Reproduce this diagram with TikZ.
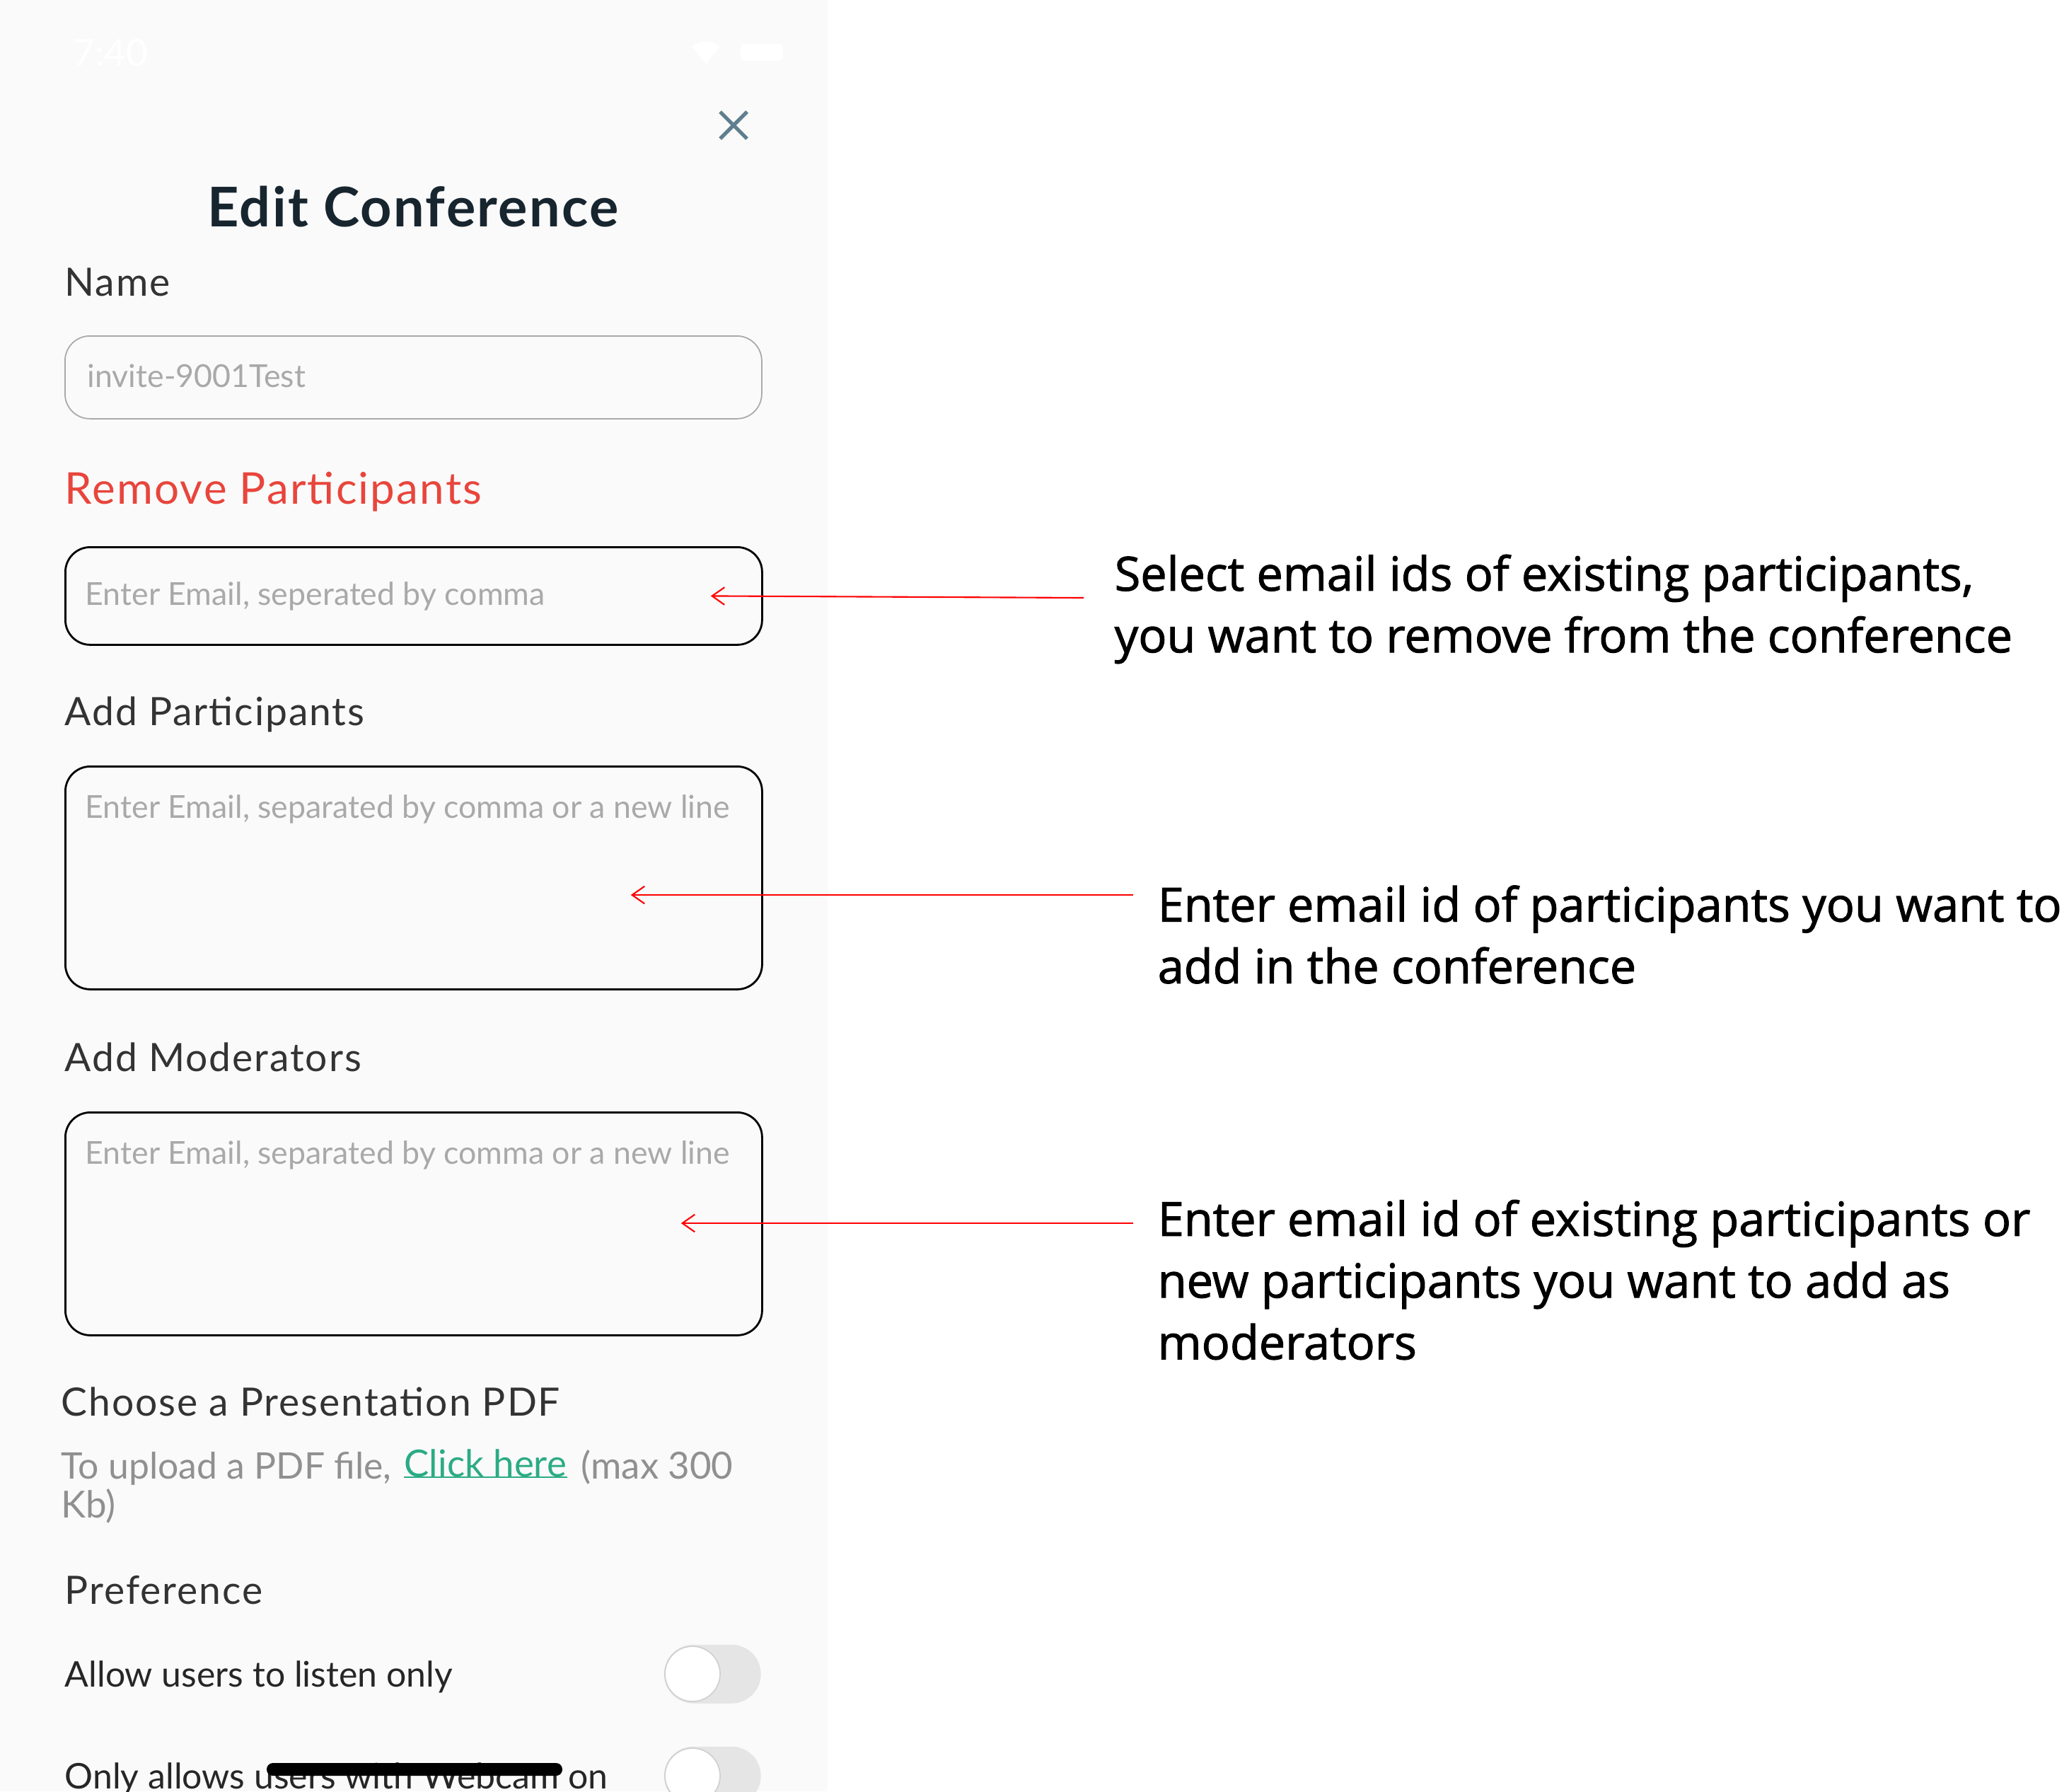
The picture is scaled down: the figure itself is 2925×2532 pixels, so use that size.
\documentclass[tikz,border=0pt]{standalone}
\usepackage{fontspec}
\usepackage{tikz}
\usetikzlibrary{arrows.meta,positioning,calc}
\setmainfont{Lato}
\newfontfamily\labelfont[LetterSpace=3.5]{Lato}
\newfontfamily\titlefont[LetterSpace=3]{Lato Bold}
\newfontfamily\notefont[FakeBold=1.5]{Open Sans}
\definecolor{confPanel}{HTML}{FAFAFA}
\definecolor{confInk}{HTML}{17252F}
\definecolor{confLabel}{HTML}{333333}
\definecolor{confHint}{HTML}{A9A9A9}
\definecolor{confRed}{HTML}{E8453C}
\definecolor{confGreen}{HTML}{2BAB84}
\definecolor{confTrack}{HTML}{E5E5E5}
\definecolor{confClose}{HTML}{5F7F8F}

\begin{document}
\begin{tikzpicture}[x=0.01cm,y=-0.01cm,
  label/.style={anchor=west,inner sep=0pt,text=confLabel,font=\labelfont\fontsize{15.7}{18}\selectfont},
  hint/.style={anchor=west,inner sep=0pt,text=confHint,font=\fontsize{12.7}{15}\selectfont},
  upload/.style={anchor=west,inner sep=0pt,text=confHint!85!black,font=\fontsize{15}{18}\selectfont},
  option/.style={anchor=west,inner sep=0pt,text=black!85,font=\fontsize{14.2}{17}\selectfont},
  field/.style={draw=black,line width=0.8pt,rounded corners=10pt,minimum width=985*0.01cm,inner sep=0pt,anchor=north west},
  note/.style={anchor=west,inner sep=0pt,align=left,text=black,font=\notefont\fontsize{18.95}{24.8}\selectfont},
  callout/.style={draw=red,line width=0.6pt,-{Straight Barb[length=5pt,width=7pt]}},
  toggle/.style={fill=confTrack,rounded corners=11.8pt,minimum width=137*0.01cm,minimum height=83*0.01cm,inner sep=0pt,anchor=north west},
  knob/.style={circle,fill=white,draw=black!18,line width=0.5pt,minimum size=78*0.01cm,inner sep=0pt}]
  \useasboundingbox (0,0) rectangle (2925,2532);
  \clip (0,0) rectangle (2925,2532);
  \fill[confPanel] (0,0) rectangle (1170,2532);

  % status bar
  \node[anchor=west,inner sep=0pt,text=white,font=\fontsize{15}{17}\selectfont] (clock) at (103,75) {7:40};
  \node[fill=white,rounded corners=2pt,minimum width=60*0.01cm,minimum height=24*0.01cm,inner sep=0pt] (battery) at (1077,74) {};
  \fill[white] (998,90) -- (978,66) arc[start angle=230,end angle=310,radius=31] -- cycle;

  % form
  \draw[confClose,line width=1.5pt] (1018,158) -- (1056,196) (1056,158) -- (1018,196);
  \node[inner sep=0pt,text=confInk,font=\titlefont\fontsize{22}{26}\selectfont] (title) at (584,292) {Edit Conference};
  \node[label] (nameLabel) at (91,399) {Name};
  \node[field,draw=confHint,line width=0.5pt,minimum height=117*0.01cm] (nameBox) at (91,474) {};
  \node[hint] (nameHint) at (123,531) {invite-9001Test};
  \node[label,text=confRed,font=\labelfont\fontsize{17.6}{20}\selectfont] (removeLabel) at (91,695) {Remove Participants};
  \node[field,minimum height=138*0.01cm] (removeBox) at (91,772) {};
  \node[hint] (removeHint) at (120,843) {Enter Email, seperated by comma};
  \node[label] (addLabel) at (91,1010) {Add Participants};
  \node[field,minimum height=315*0.01cm] (addBox) at (91,1082) {};
  \node[hint] (addHint) at (120,1144) {Enter Email, separated by comma or a new line};
  \node[label] (modLabel) at (91,1494) {Add Moderators};
  \node[field,minimum height=315*0.01cm] (modBox) at (91,1571) {};
  \node[hint] (modHint) at (120,1633) {Enter Email, separated by comma or a new line};
  \node[label] (pdfLabel) at (86,1981) {Choose a Presentation PDF};
  \node[upload,font=\fontsize{14.7}{18}\selectfont] (pdfText) at (86,2076) {To upload a PDF file,};
  \node[upload,text=confGreen] (pdfLink) at (571,2068) {Click here};
  \draw[confGreen,line width=0.6pt] (pdfLink.south west) -- (pdfLink.south east);
  \node[upload] (pdfMax) at (821,2074) {(max 300};
  \node[upload] (pdfKb) at (86,2129) {Kb)};
  \node[label] (prefLabel) at (91,2248) {Preference};
  \node[option] (listenLabel) at (91,2370) {Allow users to listen only};
  \node[toggle] (listenTrack) at (938,2324) {};
  \node[knob] (listenKnob) at (979,2366) {};
  \node[option] (webcamLabel) at (91,2514) {Only allows users with Webcam on};
  \node[toggle] (webcamTrack) at (938,2468) {};
  \node[knob] (webcamKnob) at (979,2510) {};
  \fill[black,rounded corners=2.5pt] (377,2492) rectangle (795,2510);

  % notes
  \node[note] (removeNote) at (1575,861) {Select email ids of existing participants,\\you want to remove from the conference};
  \node[note] (addNote) at (1636,1321) {Enter email id of participants you want to\\add in the conference};
  \node[note] (modNote) at (1636,1809) {Enter email id of existing participants or\\new participants you want to add as\\moderators};
  \coordinate (addTail) at ($(addNote.west)+(-34,-56)$);
  \coordinate (modTail) at ($(modNote.west)+(-34,-80)$);
  \draw[callout] ($(removeNote.west)+(-43,-16)$) -- ($(removeBox.east)+(-74,0)$);
  \draw[callout] (addTail) -- ($(addTail -| addBox.east)+(-187,0)$);
  \draw[callout] (modTail) -- ($(modTail -| modBox.east)+(-116,0)$);
\end{tikzpicture}
\end{document}
